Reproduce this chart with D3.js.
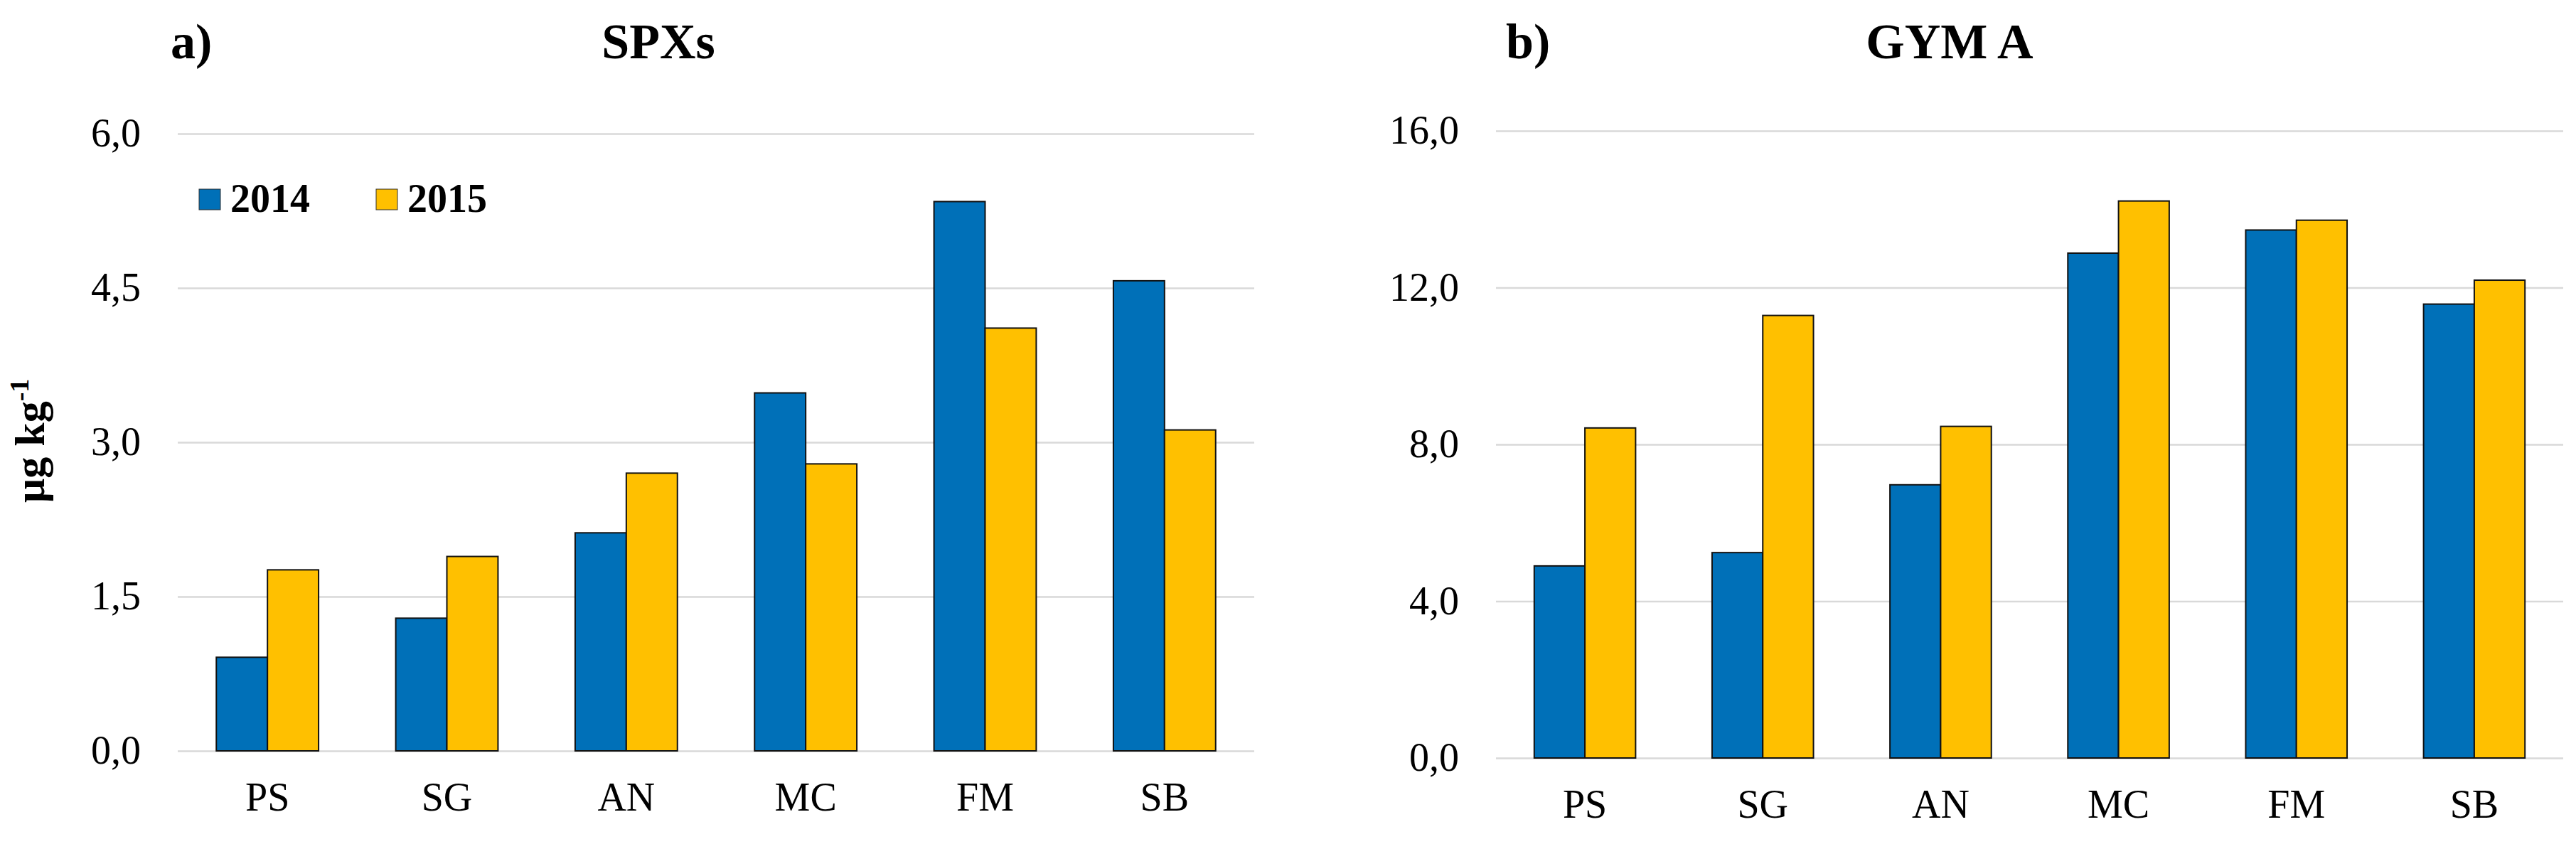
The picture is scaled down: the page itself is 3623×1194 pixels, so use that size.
<!DOCTYPE html>
<html>
<head>
<meta charset="utf-8">
<script src="https://cdn.jsdelivr.net/npm/d3@7"></script>
<style>
  body { margin: 0; background: #fff; }
  svg { display: block; font-family: "Liberation Serif", "Times New Roman", serif; }
  .tick line { stroke: #d9d9d9; stroke-width: 2.5; }
  .ytick text { font-size: 56px; fill: #000; }
  .xtick text { font-size: 56px; fill: #000; }
  .title { font-size: 70px; font-weight: bold; }
</style>
</head>
<body>
<svg width="3623" height="1194"></svg>
<script>
// sampling sites
const categories = ["PS", "SG", "AN", "MC", "FM", "SB"];
const years = ["2014", "2015"];

// a) SPXs, µg/kg
const spx2014 = [0.91, 1.29, 2.12, 3.48, 5.34, 4.57];
const spx2015 = [1.76, 1.89, 2.70, 2.79, 4.11, 3.12];
const spxTicks = [0, 1.5, 3, 4.5, 6];

// b) GYM A, µg/kg
const gym2014 = [4.90, 5.24, 6.97, 12.88, 13.47, 11.58];
const gym2015 = [8.42, 11.29, 8.46, 14.21, 13.72, 12.19];
const gymTicks = [0, 4, 8, 12, 16];

const colors = ["#0070b8", "#ffc000"];

const svg = d3.select("svg");
svg.append("rect").attr("width", 3623).attr("height", 1194).attr("fill", "#fff");

const comma = d3.formatLocale({decimal: ",", thousands: ".", grouping: [3], currency: ["", ""]}).format(".1f");

function panel(opts) {
  const {x0, x1, yTop, yBot, s1, s2, ticks, letter, letterX, title, titleX} = opts;
  const rows = categories.map((c, i) => ({cat: c, vals: [s1[i], s2[i]]}));

  const x = d3.scaleBand().domain(categories).range([x0, x1])
      .paddingInner(0.43).paddingOuter(0.215);
  const xs = d3.scaleBand().domain(years).range([0, x.bandwidth()]);
  const y = d3.scaleLinear().domain([0, d3.max(ticks)]).range([yBot, yTop]);

  // gridlines + tick labels
  const ya = svg.append("g").attr("class", "ytick")
    .attr("transform", "translate(" + x0 + ",0)")
    .call(d3.axisLeft(y).tickValues(ticks).tickFormat(comma)
      .tickSizeInner(-(x1 - x0)).tickSizeOuter(0).tickPadding(52));
  ya.select(".domain").remove();
  ya.attr("font-family", null).attr("font-size", null);

  // bars
  const g = svg.append("g");
  g.selectAll(".grp")
    .data(rows)
    .enter().append("g")
    .attr("transform", d => "translate(" + x(d.cat) + ",0)")
    .selectAll("rect")
    .data(d => d.vals.map((v, k) => ({yr: years[k], v: v, k: k})))
    .enter().append("rect")
    .attr("x", d => xs(d.yr))
    .attr("y", d => y(d.v))
    .attr("width", xs.bandwidth())
    .attr("height", d => y(0) - y(d.v))
    .attr("fill", d => colors[d.k])
    .attr("stroke", "#111")
    .attr("stroke-width", 2);

  // category labels
  const xa = svg.append("g").attr("class", "xtick")
    .attr("transform", "translate(0," + yBot + ")")
    .call(d3.axisBottom(x).tickSize(0).tickPadding(44));
  xa.select(".domain").remove();
  xa.attr("font-family", null).attr("font-size", null);

  svg.append("text").attr("class", "title")
    .attr("x", letterX).attr("y", 82).text(letter);
  svg.append("text").attr("class", "title")
    .attr("x", titleX).attr("y", 82).attr("text-anchor", "middle").text(title);
}

panel({x0: 250, x1: 1764, yTop: 188, yBot: 1056, s1: spx2014, s2: spx2015,
       ticks: spxTicks, letter: "a)", letterX: 240, title: "SPXs", titleX: 926});
panel({x0: 2104, x1: 3605, yTop: 184, yBot: 1066, s1: gym2014, s2: gym2015,
       ticks: gymTicks, letter: "b)", letterX: 2118, title: "GYM A", titleX: 2742});

// y axis title
svg.append("text")
  .attr("transform", "translate(62,620) rotate(-90)")
  .attr("text-anchor", "middle")
  .attr("font-size", 60).attr("font-weight", "bold")
  .text("µg kg")
  .append("tspan").attr("font-size", 38).attr("dy", -22).text("-1");

// legend
const leg = svg.append("g");
const legX = [280, 529];
years.forEach((yr, k) => {
  leg.append("rect").attr("x", legX[k]).attr("y", 266).attr("width", 30).attr("height", 29)
    .attr("fill", colors[k]).attr("stroke", "#333").attr("stroke-width", 1);
  leg.append("text").attr("x", legX[k] + 44).attr("y", 298)
    .attr("font-size", 56).attr("font-weight", "bold").text(yr);
});
</script>
</body>
</html>
